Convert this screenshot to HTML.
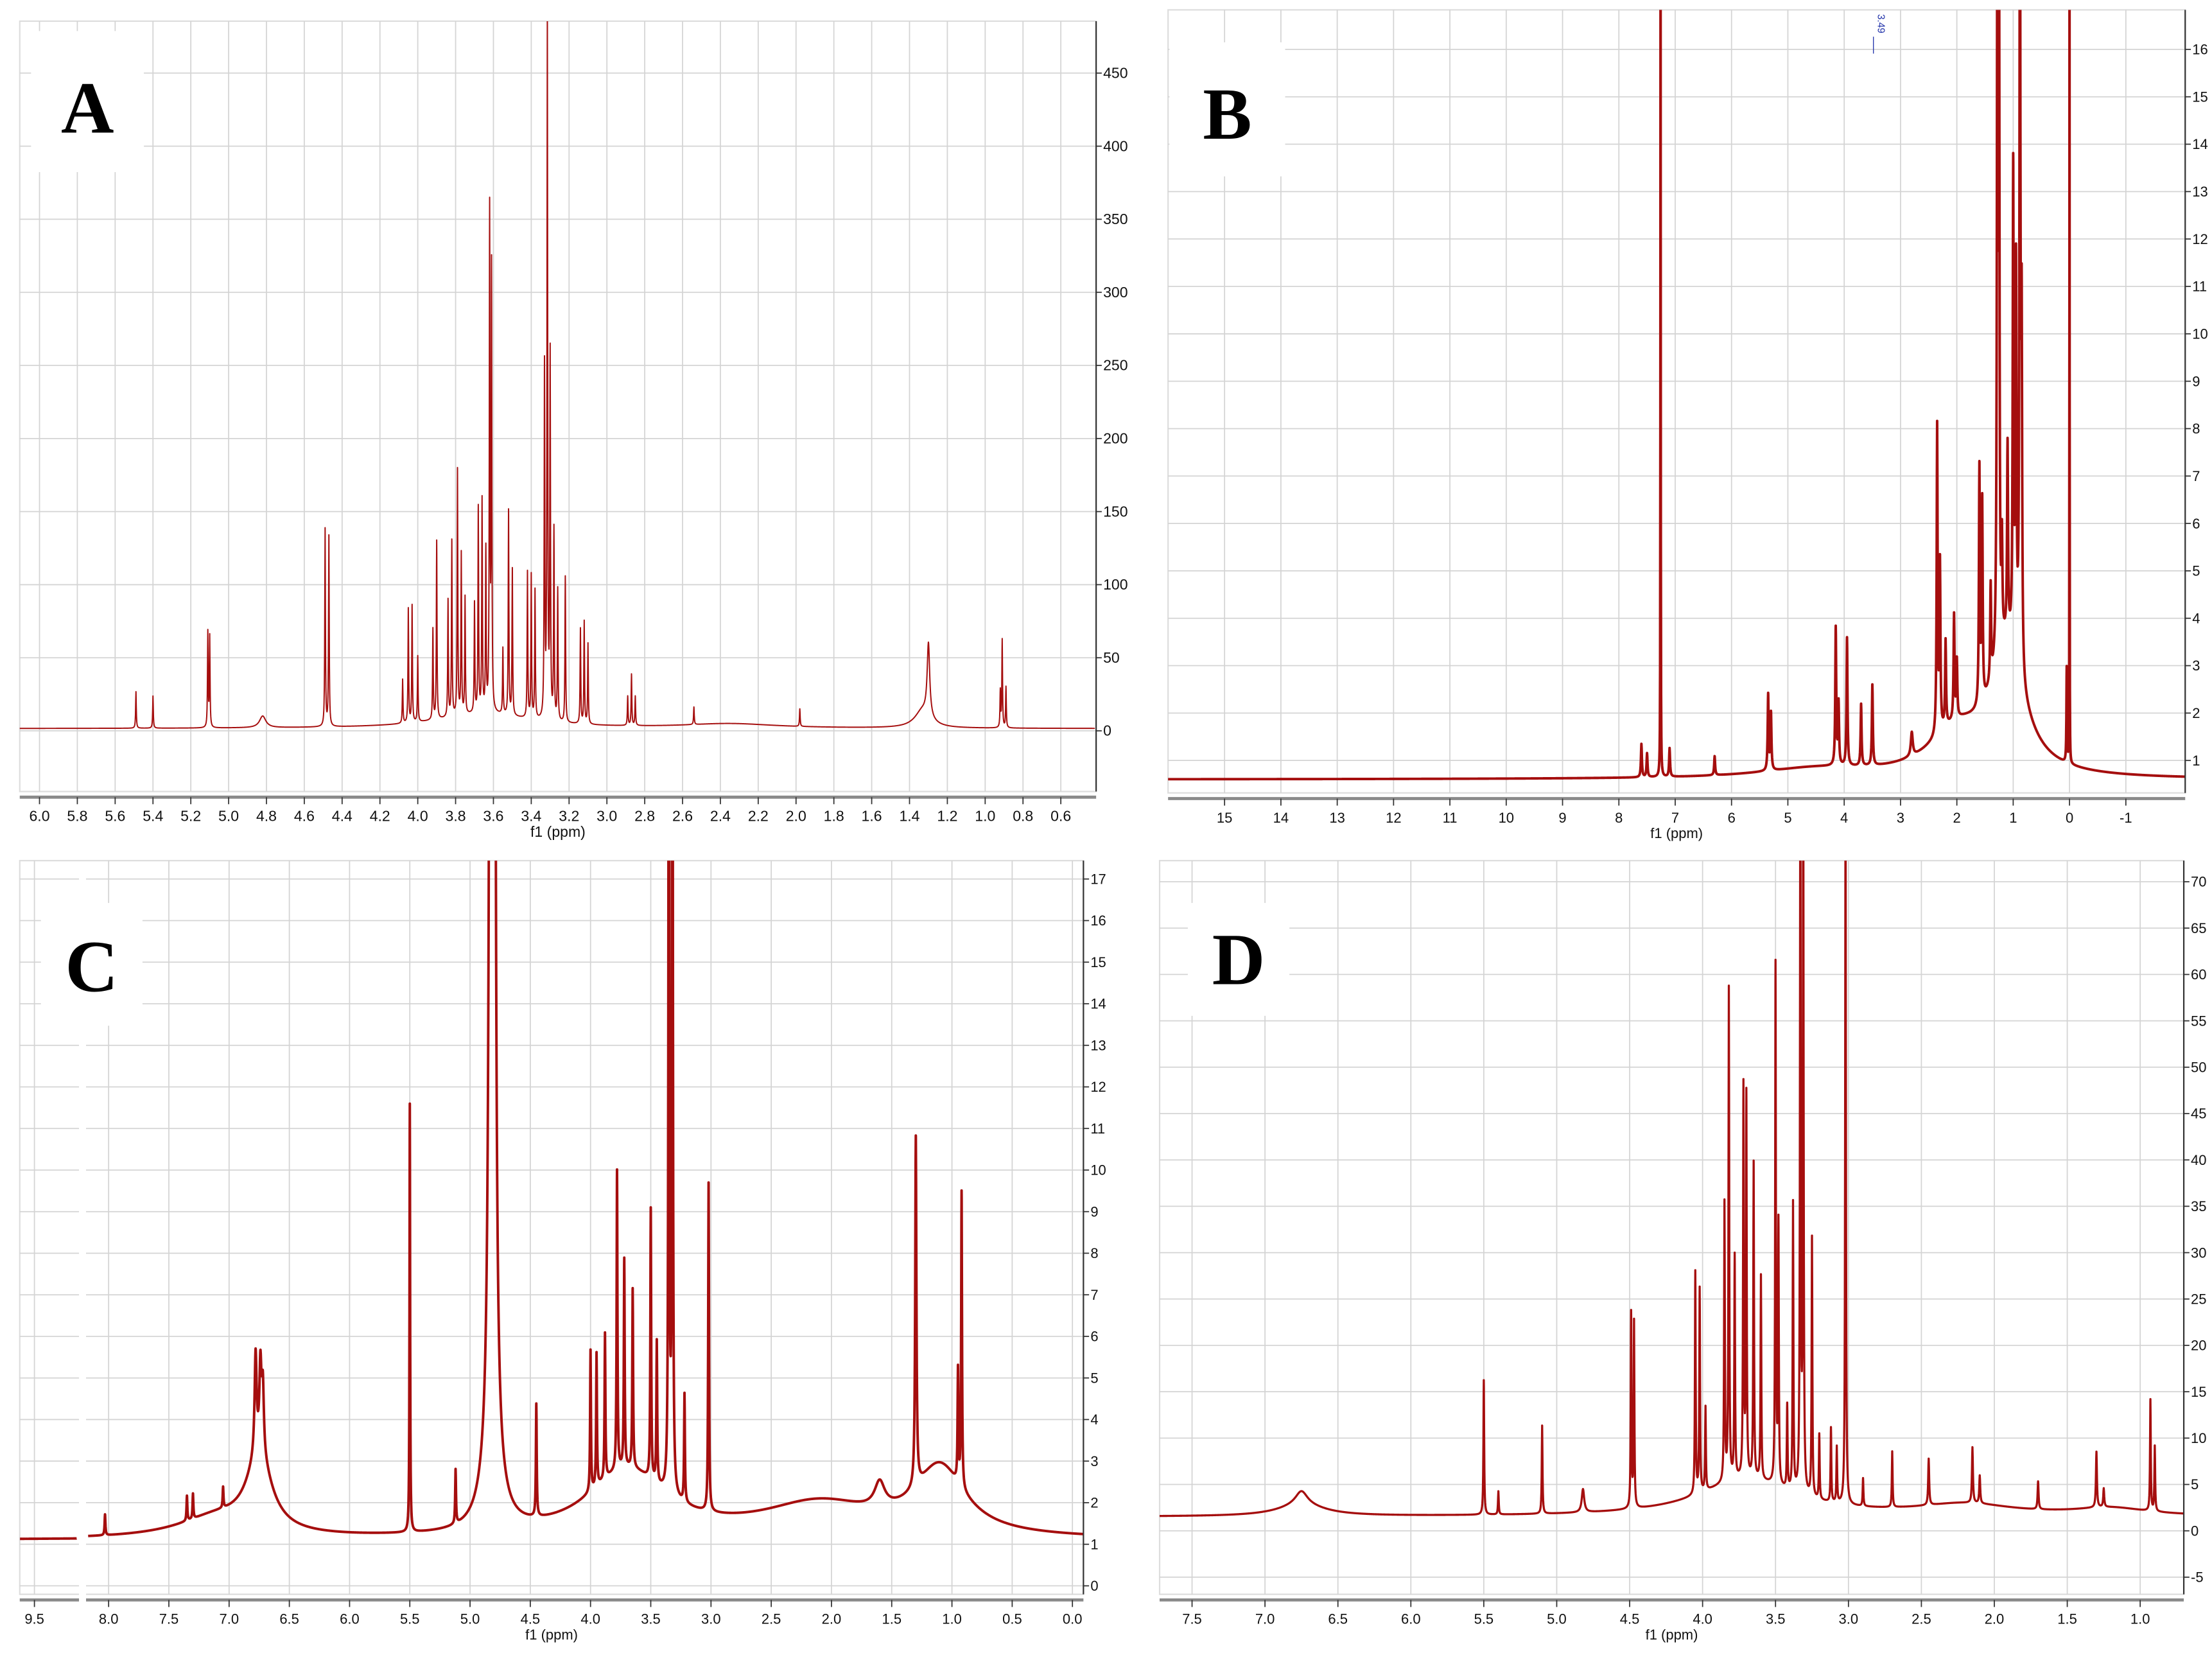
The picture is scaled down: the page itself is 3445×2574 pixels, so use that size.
<!DOCTYPE html>
<html><head><meta charset="utf-8"><title>NMR spectra A-D</title>
<style>
html,body{margin:0;padding:0;background:#fff;}
svg{display:block;}
text{font-family:"Liberation Sans",sans-serif;}
</style></head>
<body>
<svg id="fig" xmlns="http://www.w3.org/2000/svg" width="3445" height="2574" viewBox="0 0 1568 1171.6" preserveAspectRatio="none"></svg>
<script>
// ---------- Panel A data ----------
const aPeakPpm    = [5.49,5.40,5.11,5.10,4.82,4.49,4.47,4.08,4.05,4.03,4.00,3.92,3.90,3.84,3.82,3.79,3.77,3.75,3.70,3.68,3.66,3.64,3.62,3.61,3.55,3.52,3.50,3.42,3.40,3.38,3.33,3.315,3.30,3.28,3.26,3.22,3.14,3.12,3.10,2.89,2.87,2.85,2.54,1.98,1.33,1.30,0.92,0.91,0.89];
const aPeakHeight = [25,22,65,62,8,135,130,30,78,80,45,62,122,80,120,168,110,80,75,140,145,110,340,300,45,140,100,100,98,88,240,480,248,130,90,100,65,70,55,20,35,20,12,12,12,50,25,60,28];
const aPeakWidth  = [0.002,0.002,0.002,0.002,0.02,0.002,0.002,0.002,0.002,0.002,0.002,0.002,0.002,0.002,0.002,0.002,0.002,0.002,0.002,0.002,0.002,0.002,0.002,0.002,0.002,0.002,0.002,0.002,0.002,0.002,0.002,0.002,0.002,0.002,0.002,0.002,0.002,0.002,0.002,0.002,0.002,0.002,0.002,0.002,0.05,0.008,0.002,0.002,0.002];
const aBroadPpm = [3.65,2.35];
const aBroadHeight = [10,3];
const aBroadWidth = [0.3,0.3];
const aBaseline = 1.5;
const aXTicks = ["6.0","5.8","5.6","5.4","5.2","5.0","4.8","4.6","4.4","4.2","4.0","3.8","3.6","3.4","3.2","3.0","2.8","2.6","2.4","2.2","2.0","1.8","1.6","1.4","1.2","1.0","0.8","0.6"];
const aYTicks = ["0","50","100","150","200","250","300","350","400","450"];

// ---------- Panel B data ----------
const bPeakPpm    = [7.26,7.6,7.5,7.1,6.3,5.35,5.30,4.15,4.10,3.95,3.70,3.50,2.80,2.35,2.30,2.20,2.05,2.00,1.60,1.55,1.40,1.28,1.25,1.20,1.10,1.00,0.95,0.88,0.85,0.05,0.0];
const bPeakHeight = [20,0.7,0.5,0.6,0.4,1.6,1.2,2.9,1.3,2.7,1.3,1.7,0.5,6.5,3.5,1.8,2.2,1.2,5.0,4.2,2.0,18,14,2.0,4.0,10,8,18,7,2.0,20];
const bPeakWidth  = [0.003,0.01,0.01,0.01,0.01,0.01,0.01,0.01,0.01,0.01,0.01,0.01,0.02,0.01,0.01,0.01,0.01,0.01,0.01,0.01,0.01,0.01,0.008,0.01,0.01,0.01,0.01,0.01,0.01,0.006,0.002];
const bBroadPpm = [1.1,2.0,4.5];
const bBroadHeight = [2.6,0.9,0.2];
const bBroadWidth = [0.35,0.6,1.2];
const bBaseline = 0.6;
const bXTicks = ["15","14","13","12","11","10","9","8","7","6","5","4","3","2","1","0","-1"];
const bYTicks = ["1","2","3","4","5","6","7","8","9","10","11","12","13","14","15","16"];

// ---------- Panel C data ----------
const cPeakPpm    = [8.03,7.35,7.30,7.05,6.78,6.74,6.72,5.50,5.12,4.83,4.80,4.45,4.00,3.95,3.88,3.78,3.72,3.65,3.50,3.45,3.35,3.32,3.22,3.02,1.60,1.30,0.95,0.92];
const cPeakHeight = [0.5,0.6,0.6,0.5,2.4,2.0,1.6,10.3,1.3,30,30,2.7,3.4,3.2,3.5,7.2,5.0,4.3,6.5,3.4,25,25,2.6,7.9,0.6,8.4,2.7,7.1];
const cPeakWidth  = [0.004,0.004,0.004,0.004,0.01,0.01,0.01,0.003,0.004,0.012,0.012,0.004,0.004,0.004,0.004,0.004,0.004,0.004,0.004,0.004,0.004,0.004,0.004,0.004,0.05,0.006,0.004,0.004];
const cBroadPpm = [6.75,7.1,3.7,2.1,1.1,4.82];
const cBroadHeight = [1.8,0.5,1.6,0.8,1.6,2.0];
const cBroadWidth = [0.12,0.4,0.4,0.6,0.25,0.08];
const cBaseline = 1.1;
const cXTicks = ["9.5","8.0","7.5","7.0","6.5","6.0","5.5","5.0","4.5","4.0","3.5","3.0","2.5","2.0","1.5","1.0","0.5","0.0"];
const cYTicks = ["0","1","2","3","4","5","6","7","8","9","10","11","12","13","14","15","16","17"];

// ---------- Panel D data ----------
const dPeakPpm    = [6.75,5.50,5.40,5.10,4.82,4.49,4.47,4.05,4.02,3.98,3.85,3.82,3.78,3.72,3.70,3.65,3.60,3.50,3.48,3.42,3.38,3.33,3.31,3.25,3.20,3.12,3.08,3.02,2.90,2.70,2.45,2.15,2.10,1.70,1.30,1.25,0.93,0.90];
const dPeakHeight = [1.5,14.5,2.5,9.5,2.5,21,20,24,22,9,30,53,24,42,41,34,22,56,28,9,31,80,80,28,7,8,6,80,3,6,5,6,3,3,6,2,12,7];
const dPeakWidth  = [0.05,0.003,0.003,0.003,0.01,0.003,0.003,0.003,0.003,0.003,0.003,0.003,0.003,0.003,0.003,0.003,0.003,0.003,0.003,0.003,0.003,0.003,0.003,0.003,0.003,0.003,0.003,0.003,0.003,0.003,0.004,0.004,0.004,0.004,0.004,0.004,0.003,0.003];
const dBroadPpm = [6.75,3.7,2.2,1.2];
const dBroadHeight = [1.2,4,1.2,0.8];
const dBroadWidth = [0.2,0.4,0.4,0.3];
const dBaseline = 1.5;
const dXTicks = ["7.5","7.0","6.5","6.0","5.5","5.0","4.5","4.0","3.5","3.0","2.5","2.0","1.5","1.0"];
const dYTicks = ["-5","0","5","10","15","20","25","30","35","40","45","50","55","60","65","70"];

const NS = "http://www.w3.org/2000/svg";
const svg = document.getElementById('fig');
function mk(tag, attrs, parent){
  const e = document.createElementNS(NS, tag);
  for (const k in attrs) e.setAttribute(k, attrs[k]);
  (parent||svg).appendChild(e);
  return e;
}
function spectrum(ppm, peaksP, peaksH, peaksW, brP, brH, brW, base){
  let v = base;
  for (let i=0;i<peaksP.length;i++){ const d=(ppm-peaksP[i])/peaksW[i]; v += peaksH[i]/(1+d*d); }
  for (let i=0;i<brP.length;i++){ const d=(ppm-brP[i])/brW[i]; v += brH[i]/(1+d*d); }
  return v;
}

function panel(cfg){
  const g = mk('g', {});
  
  
  const {L,R,T,B} = cfg;
  const xs = cfg.xScale, ys = cfg.yScale;
  const bg = mk('rect',{x:L,y:T,width:R-L,height:B-T,fill:'#fff',stroke:'#ddd','stroke-width':1},g);
  
  
  const grid = mk('g',{stroke:'#d4d4d4','stroke-width':0.8},g);
  
  
  cfg.xTicks.forEach(t=>{ const x=xs(parseFloat(t)); if(x>=L&&x<=R) mk('line',{x1:x,x2:x,y1:T,y2:B},grid); });
  cfg.yTicks.forEach(t=>{ const y=ys(parseFloat(t)); if(y>=T&&y<=B) mk('line',{x1:L,x2:R,y1:y,y2:y},grid); });
  const cp = mk('clipPath',{id:'clip-'+cfg.name},g);
  mk('rect',{x:L,y:T,width:R-L,height:B-T},cp);
  const n=4000;
  cfg.segments.forEach(seg=>{
    const arr=[];
    for(let i=0;i<=n;i++) arr.push(seg[0]+(seg[1]-seg[0])*i/n);
    cfg.peaks[0].forEach(p=>{ if(p<=Math.max(seg[0],seg[1]) && p>=Math.min(seg[0],seg[1])) arr.push(p); });
    arr.sort((a,b)=>b-a);
    let d='';
    arr.forEach((p,i)=>{
      const v = spectrum(p, cfg.peaks[0],cfg.peaks[1],cfg.peaks[2],cfg.broad[0],cfg.broad[1],cfg.broad[2],cfg.base);
      d += (i?'L':'M')+xs(p).toFixed(2)+','+ys(v).toFixed(2);
    });
    const path = mk('path',{d:d,fill:'none',stroke:'#a50e0e','stroke-width':cfg.sw,'stroke-linejoin':'round','clip-path':'url(#clip-'+cfg.name+')'},g);
    
    
  });
  if (cfg.brk){
    const br = mk('rect',{x:cfg.brk[0],y:T+1,width:cfg.brk[1],height:B-T+8,fill:'#fff'},g);
    
    
  }
  const ax = mk('g',{},g);
  
  
  if (cfg.brk){
    mk('line',{x1:L,x2:cfg.brk[0],y1:B+4,y2:B+4,stroke:'#8a8a8a','stroke-width':2.2},ax);
    mk('line',{x1:cfg.brk[0]+cfg.brk[1],x2:R,y1:B+4,y2:B+4,stroke:'#8a8a8a','stroke-width':2.2},ax);
  } else {
    mk('line',{x1:L,x2:R,y1:B+4,y2:B+4,stroke:'#8a8a8a','stroke-width':2.2},ax);
  }
  cfg.xTicks.forEach(t=>{
    const x=xs(parseFloat(t));
    mk('line',{x1:x,x2:x,y1:B+4,y2:B+9,stroke:'#333','stroke-width':0.8},ax);
    const tx = mk('text',{x:x,y:B+21,'font-size':cfg.fs,'text-anchor':'middle',fill:'#111'},ax);
    tx.textContent=t;
    
    
  });
  const xt = mk('text',{x:(L+R)/2,y:B+32,'font-size':cfg.fs,'text-anchor':'middle',fill:'#111'},ax);
  xt.textContent='f1 (ppm)';
  
  
  const ay = mk('g',{},g);
  
  
  mk('line',{x1:R,x2:R,y1:T,y2:B,stroke:'#333','stroke-width':1},ay);
  cfg.yTicks.forEach(t=>{
    const y=ys(parseFloat(t));
    mk('line',{x1:R,x2:R+4,y1:y,y2:y,stroke:'#333','stroke-width':0.8},ay);
    const tx = mk('text',{x:R+5,y:y+3.5,'font-size':cfg.fs,fill:'#111'},ay);
    tx.textContent=t;
    
    
  });
  const lb = mk('rect',{x:cfg.lbl[0],y:cfg.lbl[1],width:cfg.lbl[2],height:cfg.lbl[3],fill:'#fff'},g);
  
  
  const lt = mk('text',{x:cfg.lbl[0]+cfg.lbl[2]/2,y:cfg.lbl[1]+cfg.lbl[3]*0.72,'font-size':52,'font-weight':'bold','text-anchor':'middle',style:'font-family:"Liberation Serif",serif'},g);
  lt.textContent=cfg.letter;
  
  
  return g;
}

panel({name:'panel-a',letter:'A',L:14,R:777,T:15,B:561,fs:10.5,sw:0.9,
  xScale:p=>28+(6-p)*134.07, yScale:v=>518-v*1.036,
  xTicks:aXTicks,yTicks:aYTicks,segments:[[6.11,0.42]],
  peaks:[aPeakPpm,aPeakHeight,aPeakWidth],broad:[aBroadPpm,aBroadHeight,aBroadWidth],base:aBaseline,
  lbl:[22,22,80,100]});
panel({name:'panel-b',letter:'B',L:828,R:1549,T:7,B:562,fs:10,sw:1.8,
  xScale:p=>1467-p*39.93, yScale:v=>572.6-v*33.6,
  xTicks:bXTicks,yTicks:bYTicks,segments:[[16.1,-2.1]],
  peaks:[bPeakPpm,bPeakHeight,bPeakWidth],broad:[bBroadPpm,bBroadHeight,bBroadWidth],base:bBaseline,
  lbl:[829,30,82,95]});
panel({name:'panel-c',letter:'C',L:14,R:768,T:610,B:1130,fs:10,sw:1.8,
  xScale:p=> p>8.6 ? 24.4+(9.5-p)*85.4 : 77+(8-p)*85.4, yScale:v=>1124-v*29.47,
  xTicks:cXTicks,yTicks:cYTicks,segments:[[9.62,9.15],[8.17,-0.1]],
  peaks:[cPeakPpm,cPeakHeight,cPeakWidth],broad:[cBroadPpm,cBroadHeight,cBroadWidth],base:cBaseline,
  brk:[56,5],
  lbl:[29,640,72,87]});
panel({name:'panel-d',letter:'D',L:822,R:1548,T:610,B:1130,fs:10,sw:1.5,
  xScale:p=>845+(7.5-p)*103.4, yScale:v=>1085-v*6.572,
  xTicks:dXTicks,yTicks:dYTicks,segments:[[7.75,0.65]],
  peaks:[dPeakPpm,dPeakHeight,dPeakWidth],broad:[dBroadPpm,dBroadHeight,dBroadWidth],base:dBaseline,
  lbl:[842,640,72,80]});
const ann = mk('text',{x:1331,y:10,'font-size':7,fill:'#2233aa',transform:'rotate(90 1331 10)'});
ann.textContent='3.49';


mk('line',{x1:1328,x2:1328,y1:26,y2:38,stroke:'#2233aa','stroke-width':0.6});
</script>
</body></html>
